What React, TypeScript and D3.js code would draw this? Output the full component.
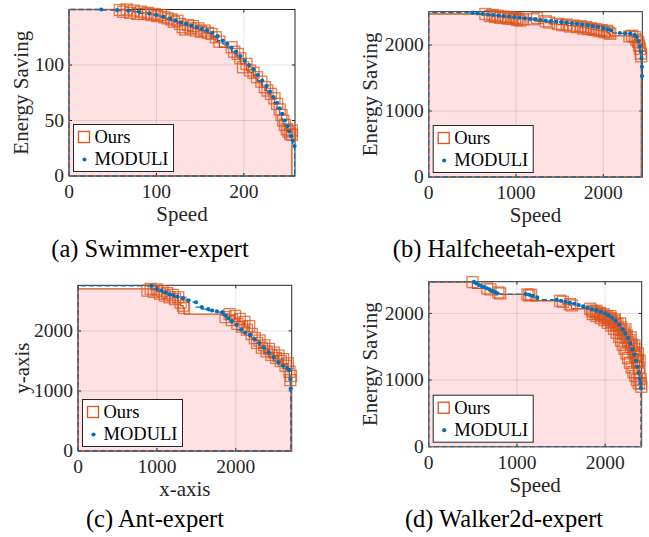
import * as d3 from "d3";

type Pt = [number, number];

// (a) Swimmer-expert
const swimmerOurs: Pt[] = [
  [58, 149.5], [62, 148], [66, 150], [70, 147], [74, 149], [78, 146], [82, 148], [86, 146],
  [90, 147], [94, 145], [98, 146], [101, 144], [105, 145], [109, 143], [113, 142], [117, 141],
  [120, 139], [124, 140], [127, 137], [130, 134], [133, 132], [136, 136], [139, 133], [142, 135],
  [145, 131], [148, 133], [151, 130], [155, 131], [159, 129], [163, 128], [168, 125], [172, 121],
  [186, 116], [189, 112], [193, 110], [196, 106], [199, 98], [203, 101], [207, 95], [211, 93],
  [215, 89], [220, 85], [224, 80], [227, 77], [231, 74], [235, 70], [238, 65], [241, 60],
  [243, 55], [245, 50], [247, 46], [249, 42], [251, 40], [253, 38], [255, 41], [255, 37],
];
const swimmerModuli: Pt[] = [
  [37, 150], [55, 149.5], [68, 149], [80, 148], [92, 146.5], [100, 145], [108, 143.5], [116, 141.5],
  [122, 140], [128, 138.5], [134, 137], [140, 135.5], [146, 134], [152, 132.5], [158, 131], [164, 129],
  [170, 126], [176, 122], [181, 119], [186, 115.5], [191, 112], [196, 108], [201, 104], [206, 100],
  [211, 96], [216, 91], [221, 86], [226, 81], [230, 76], [234, 71], [238, 66], [241, 61],
  [244, 56], [247, 50], [250, 45], [252, 40], [254, 36], [256, 32], [258, 27],
];
const swimmerXTicks = [0, 100, 200];
const swimmerYTicks = [0, 50, 100];

// (b) Halfcheetah-expert
const cheetahOurs: Pt[] = [
  [650, 2470], [700, 2440], [730, 2455], [760, 2425], [790, 2445], [820, 2410], [850, 2430], [880, 2420],
  [910, 2400], [940, 2425], [960, 2395], [990, 2410], [1010, 2380], [1030, 2400], [1050, 2370], [1080, 2390],
  [1200, 2390], [1240, 2410], [1340, 2360], [1380, 2340], [1480, 2320], [1530, 2300], [1580, 2310], [1620, 2280],
  [1660, 2295], [1700, 2270], [1740, 2285], [1770, 2250], [1800, 2270], [1830, 2240], [1860, 2255], [1890, 2230],
  [1920, 2240], [1950, 2210], [1980, 2225], [2010, 2195], [2040, 2215], [2060, 2190], [2080, 2170], [2300, 2130],
  [2330, 2140], [2360, 2120], [2380, 2080], [2400, 2050], [2410, 1990], [2420, 1940], [2430, 1870], [2435, 1830],
];
const cheetahModuli: Pt[] = [
  [500, 2490], [560, 2480], [620, 2470], [680, 2462], [740, 2455], [800, 2447], [860, 2440], [920, 2432],
  [980, 2424], [1040, 2414], [1100, 2404], [1160, 2395], [1220, 2386], [1280, 2378], [1340, 2370], [1400, 2362],
  [1460, 2354], [1520, 2346], [1580, 2338], [1640, 2329], [1700, 2320], [1760, 2310], [1820, 2298], [1880, 2286],
  [1940, 2272], [2000, 2255], [2050, 2238], [2090, 2220], [2190, 2182], [2250, 2178], [2310, 2172], [2360, 2150],
  [2385, 2120], [2405, 2060], [2420, 1980], [2430, 1900], [2438, 1800], [2442, 1670], [2444, 1530],
];
const cheetahXTicks = [0, 1000, 2000];
const cheetahYTicks = [0, 1000, 2000];

// (c) Ant-expert
const antOurs: Pt[] = [
  [880, 2672], [920, 2700], [960, 2650], [1000, 2690], [1040, 2620], [1070, 2660], [1100, 2590], [1130, 2630],
  [1160, 2560], [1200, 2600], [1230, 2530], [1270, 2560], [1300, 2470], [1330, 2420], [1345, 2383],
  [1870, 2230], [1920, 2280], [1950, 2180], [1990, 2250], [2020, 2120], [2050, 2200], [2080, 2070], [2110, 2150],
  [2140, 2020], [2170, 2080], [2200, 1950], [2240, 1880], [2270, 1800], [2300, 1840], [2330, 1720], [2360, 1760],
  [2390, 1660], [2420, 1700], [2450, 1600], [2480, 1640], [2510, 1550], [2540, 1590], [2570, 1500], [2600, 1530],
  [2630, 1420], [2660, 1460], [2680, 1320], [2700, 1250], [2690, 1180],
];
const antModuli: Pt[] = [
  [930, 2750], [1000, 2700], [1060, 2668], [1110, 2640], [1160, 2610], [1210, 2590], [1260, 2570], [1330, 2545],
  [1400, 2510], [1495, 2478], [1570, 2395], [1650, 2362], [1700, 2340], [1760, 2325], [1830, 2312], [1870, 2260],
  [1905, 2212], [1950, 2160], [2010, 2100], [2070, 2020], [2120, 1970], [2180, 1930], [2240, 1860], [2300, 1795],
  [2360, 1720], [2420, 1640], [2480, 1560], [2540, 1480], [2600, 1420], [2650, 1380], [2680, 1350], [2690, 1200],
  [2695, 1040],
];
const antXTicks = [0, 1000, 2000];
const antYTicks = [0, 1000, 2000];

// (d) Walker2d-expert
const walkerOurs: Pt[] = [
  [496, 2470], [664, 2375], [700, 2360], [790, 2315], [810, 2300], [1120, 2285], [1140, 2270], [1160, 2280],
  [1490, 2190], [1520, 2175], [1600, 2140], [1620, 2120], [1830, 2070], [1850, 2040], [1880, 2020], [1900, 2040],
  [1920, 1990], [1940, 2010], [1960, 1970], [1980, 1990], [2000, 1940], [2020, 1960], [2040, 1910], [2060, 1930],
  [2080, 1870], [2100, 1890], [2120, 1820], [2140, 1840], [2160, 1760], [2180, 1790], [2200, 1700], [2215, 1730],
  [2230, 1640], [2245, 1670], [2260, 1570], [2275, 1600], [2290, 1500], [2305, 1530], [2320, 1420], [2330, 1460],
  [2340, 1350], [2350, 1380], [2360, 1270], [2370, 1300], [2380, 1180], [2390, 1100], [2400, 1020], [2405, 950],
  [2410, 900],
  [1860, 1990], [1900, 1960], [1950, 1930], [1990, 1900], [2030, 1860], [2070, 1820], [2100, 1770], [2130, 1710],
  [2160, 1650], [2180, 1590], [2200, 1530], [2220, 1470], [2240, 1400], [2260, 1330], [2280, 1260], [2300, 1190],
  [2320, 1120], [2340, 1060], [2360, 1000], [2380, 950],
  [2060, 1960], [2110, 1910], [2170, 1850], [2230, 1760], [2290, 1640], [2330, 1520], [2370, 1400], [2390, 1290],
];
const walkerModuli: Pt[] = [
  [513, 2474], [540, 2450], [570, 2430], [600, 2410], [630, 2395], [660, 2378], [690, 2360], [720, 2340],
  [750, 2320], [775, 2300], [1100, 2290], [1140, 2280], [1180, 2262], [1230, 2240], [1450, 2205], [1500, 2190],
  [1550, 2175], [1600, 2160], [1650, 2145], [1700, 2125], [1750, 2105], [1800, 2085], [1850, 2065], [1900, 2045],
  [1950, 2025], [2000, 2000], [2040, 1970], [2080, 1935], [2120, 1890], [2160, 1830], [2200, 1760], [2230, 1700],
  [2260, 1630], [2285, 1550], [2310, 1460], [2330, 1380], [2350, 1290], [2365, 1200], [2380, 1110], [2392, 1020],
  [2400, 950], [2405, 880],
];
const walkerXTicks = [0, 1000, 2000];
const walkerYTicks = [0, 1000, 2000];

const seriesNames = ["Ours", "MODULI"];

const ORANGE = "#D95319";
const BLUE = "#0072BD";
const PINK = "#FFE1E3";
const AXIS = "#262626";
const FONT = "Liberation Serif, Tinos, Times New Roman, serif";

const panels = [
  {
    id: "a", ours: swimmerOurs, moduli: swimmerModuli, xTicks: swimmerXTicks, yTicks: swimmerYTicks,
    xMax: 258.5, yMax: 150, left: 69, right: 295, top: 9.5, bottom: 176,
    xLabel: "Speed", yLabel: "Energy Saving", title: "(a) Swimmer-expert", titleX: 150, titleY: 257, yLabelX: 28,
  },
  {
    id: "b", ours: cheetahOurs, moduli: cheetahModuli, xTicks: cheetahXTicks, yTicks: cheetahYTicks,
    xMax: 2447, yMax: 2505, left: 428.7, right: 642.3, top: 11.7, bottom: 177,
    xLabel: "Speed", yLabel: "Energy Saving", title: "(b) Halfcheetah-expert", titleX: 504, titleY: 257, yLabelX: 377,
  },
  {
    id: "c", ours: antOurs, moduli: antModuli, xTicks: antXTicks, yTicks: antYTicks,
    xMax: 2708, yMax: 2760, left: 78, right: 291.7, top: 285.3, bottom: 451,
    xLabel: "x-axis", yLabel: "y-axis", title: "(c) Ant-expert", titleX: 155, titleY: 527, yLabelX: 29,
  },
  {
    id: "d", ours: walkerOurs, moduli: walkerModuli, xTicks: walkerXTicks, yTicks: walkerYTicks,
    xMax: 2414, yMax: 2476, left: 428.7, right: 641.7, top: 281.7, bottom: 446.7,
    xLabel: "Speed", yLabel: "Energy Saving", title: "(d) Walker2d-expert", titleX: 504, titleY: 527, yLabelX: 377,
  },
];

// non-dominated points, sorted by x
function front(points: Pt[]): Pt[] {
  const sorted = [...points].sort((a, b) => b[0] - a[0]);
  const out: Pt[] = [];
  let best = -Infinity;
  for (const p of sorted) {
    if (p[1] > best) {
      out.push(p);
      best = p[1];
    }
  }
  return out.reverse();
}

// outline of the dominated region
function stairs(points: Pt[]): Pt[] {
  const f = front(points);
  const s: Pt[] = [[0, 0], [0, f[0][1]]];
  f.forEach((p, i) => {
    if (i > 0) s.push([f[i - 1][0], p[1]]);
    s.push(p);
  });
  s.push([f[f.length - 1][0], 0]);
  s.push([0, 0]);
  return s;
}

const Panel = ({ cfg }: { cfg: any }) => {
  const x = d3.scaleLinear().domain([0, cfg.xMax]).range([cfg.left, cfg.right]);
  const y = d3.scaleLinear().domain([0, cfg.yMax]).range([cfg.bottom, cfg.top]);
  const line = d3.line<Pt>().x((d) => x(d[0])).y((d) => y(d[1]));
  const oursPath = line(stairs(cfg.ours)) || "";
  const modPath = line(stairs(cfg.moduli)) || "";
  const sq = 11;
  const cx = (cfg.left + cfg.right) / 2;
  const cy = (cfg.top + cfg.bottom) / 2;
  const lx = cfg.left + 4.5;
  const ly = cfg.bottom - 4.5 - 47;
  const tk = 3;
  const txt = { fontFamily: FONT };

  return (
    <g>
      <path d={oursPath} fill={PINK} stroke="none" />
      {/* grid */}
      {cfg.xTicks.filter((t: number) => t > 0).map((t: number) => (
        <line key={"gx" + t} x1={x(t)} x2={x(t)} y1={cfg.top} y2={cfg.bottom} stroke={AXIS} strokeOpacity={0.13} strokeWidth={1} />
      ))}
      {cfg.yTicks.filter((t: number) => t > 0).map((t: number) => (
        <line key={"gy" + t} y1={y(t)} y2={y(t)} x1={cfg.left} x2={cfg.right} stroke={AXIS} strokeOpacity={0.13} strokeWidth={1} />
      ))}
      <rect x={cfg.left} y={cfg.top} width={cfg.right - cfg.left} height={cfg.bottom - cfg.top} fill="none" stroke={AXIS} strokeWidth={1} />
      {/* inward ticks on all sides */}
      {cfg.xTicks.map((t: number) => (
        <g key={"tx" + t}>
          <line x1={x(t)} x2={x(t)} y1={cfg.bottom} y2={cfg.bottom - tk} stroke={AXIS} />
          <line x1={x(t)} x2={x(t)} y1={cfg.top} y2={cfg.top + tk} stroke={AXIS} />
        </g>
      ))}
      {cfg.yTicks.map((t: number) => (
        <g key={"ty" + t}>
          <line x1={cfg.left} x2={cfg.left + tk} y1={y(t)} y2={y(t)} stroke={AXIS} />
          <line x1={cfg.right} x2={cfg.right - tk} y1={y(t)} y2={y(t)} stroke={AXIS} />
        </g>
      ))}
      <path d={oursPath} fill="none" stroke={ORANGE} strokeWidth={1.3} />
      <path d={modPath} fill="none" stroke={BLUE} strokeWidth={1.3} strokeDasharray="5,3" />
      {cfg.ours.map((d: Pt, i: number) => (
        <rect key={"o" + i} x={x(d[0]) - sq / 2} y={y(d[1]) - sq / 2} width={sq} height={sq}
          fill="none" stroke={ORANGE} strokeOpacity={0.75} strokeWidth={1.3} />
      ))}
      {cfg.moduli.map((d: Pt, i: number) => (
        <circle key={"m" + i} cx={x(d[0])} cy={y(d[1])} r={2.1} fill={BLUE} />
      ))}
      {/* tick labels */}
      {cfg.xTicks.map((t: number) => (
        <text key={"lx" + t} x={x(t)} y={cfg.bottom + 22} textAnchor="middle" style={txt} fontSize={19.5} fill={AXIS}>{t}</text>
      ))}
      {cfg.yTicks.map((t: number) => (
        <text key={"ly" + t} x={cfg.left - 5} y={y(t) + 6.3} textAnchor="end" style={txt} fontSize={19.5} fill={AXIS}>{t}</text>
      ))}
      <text x={cx} y={cfg.bottom + 45} textAnchor="middle" style={txt} fontSize={21} fill={AXIS}>{cfg.xLabel}</text>
      <text transform={`translate(${cfg.yLabelX},${cy}) rotate(-90)`} textAnchor="middle" style={txt} fontSize={21} fill={AXIS}>{cfg.yLabel}</text>
      {/* legend */}
      <rect x={lx} y={ly} width={100} height={47} fill="#fff" stroke={AXIS} strokeWidth={1} />
      <rect x={lx + 10.5 - sq / 2} y={ly + 12.5 - sq / 2} width={sq} height={sq} fill="none" stroke={ORANGE} strokeWidth={1.3} />
      <circle cx={lx + 11} cy={ly + 35} r={2.1} fill={BLUE} />
      <text x={lx + 21} y={ly + 18.5} style={txt} fontSize={18.5} fill="#000">{seriesNames[0]}</text>
      <text x={lx + 21} y={ly + 40.5} style={txt} fontSize={18.5} fill="#000">{seriesNames[1]}</text>
      <text x={cfg.titleX} y={cfg.titleY} textAnchor="middle" style={txt} fontSize={24.5} fill="#000">{cfg.title}</text>
    </g>
  );
};

export default function App() {
  return (
    <svg width={649} height={537} style={{ position: "absolute", left: 0, top: 0, background: "#fff" }}>
      {panels.map((p) => (
        <Panel key={p.id} cfg={p} />
      ))}
    </svg>
  );
}
